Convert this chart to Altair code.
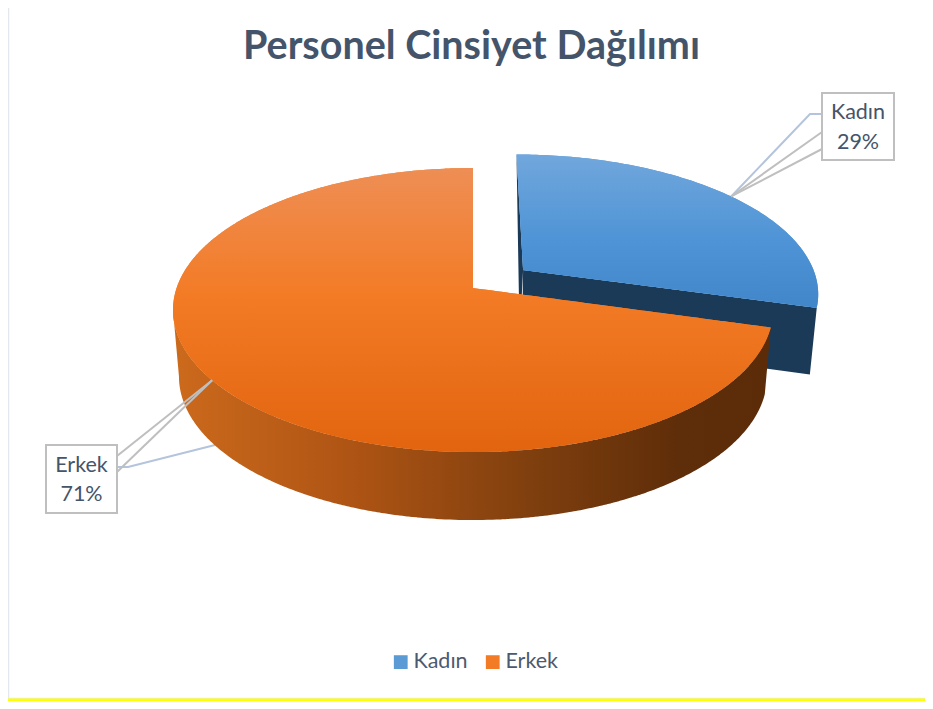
import numpy as np
import pandas as pd
import altair as alt

# --- chart values ---
categories = ["Kadın", "Erkek"]
shares = [29.4, 70.6]
title_text = "Personel Cinsiyet Dağılımı"

# --- drawing constants (picture geometry, colours) ---
W, H = 917, 693
CX, CY, A, B, K = 473.0, 288.0, 296.4, 138.6, 0.155
EXPLODE_U, EXPLODE_V = 0.1725, 0.1327
DEPTH_SX, DEPTH_SY, DEPTH_DY = 0.98, 1.01, 63.5
INK = "#44546A"
SOLID = ["#5B9BD5", "#F37B25"]
BOX_COL = "#BFBFBF"
LEAD_COL = "#B4C4DC"
XS = alt.Scale(domain=[8, 8 + W], nice=False, zero=False)
YS = alt.Scale(domain=[8 + H, 8], nice=False, zero=False)


def project(theta, du=0.0, dv=0.0):
    u = np.sin(theta) + du
    v = np.cos(theta) + dv
    w = 1 + K * v
    return np.column_stack([CX + A * u / w, CY - B * v / w])


def centre(du=0.0, dv=0.0):
    w = 1 + K * dv
    return np.array([[CX + A * du / w, CY - B * dv / w]])


def lower(p):
    return np.column_stack([CX + (p[:, 0] - CX) * DEPTH_SX, p[:, 1] * DEPTH_SY + DEPTH_DY])


def columns(points, shape):
    """Turn a closed outline into x / y / y2 rows for an area mark."""
    p = np.asarray(points)
    q = np.roll(p, -1, axis=0)
    xs = np.unique(np.concatenate([p[:, 0], p[:, 0] - 0.01, p[:, 0] + 0.01]))
    xs = xs[(xs >= p[:, 0].min()) & (xs <= p[:, 0].max())]
    rows = []
    for x in xs:
        lo, hi = np.minimum(p[:, 0], q[:, 0]), np.maximum(p[:, 0], q[:, 0])
        m = (lo <= x) & (x <= hi)
        dx = q[m, 0] - p[m, 0]
        safe = np.where(np.abs(dx) < 1e-9, 1.0, dx)
        t = np.where(np.abs(dx) < 1e-9, 0.0, (x - p[m, 0]) / safe)
        ys = np.concatenate([p[m, 1] + t * (q[m, 1] - p[m, 1]),
                             q[m, 1][np.abs(dx) < 1e-9]])
        rows.append({"x": float(x), "y": float(ys.min()), "y2": float(ys.max()), "slice": shape})
    return pd.DataFrame(rows)


def area(df, **mark):
    return alt.Chart(df).mark_area(interpolate="linear", **mark).encode(
        x=alt.X("x:Q", scale=XS, axis=None),
        y=alt.Y("y:Q", scale=YS, axis=None),
        y2="y2:Q",
    )


def v_grad(stops):
    return alt.Gradient(gradient="linear", x1=0, x2=0, y1=0, y2=1,
                        stops=[alt.GradientStop(offset=o, color=c) for o, c in stops])


def h_grad(stops):
    return alt.Gradient(gradient="linear", x1=0, x2=1, y1=0, y2=0,
                        stops=[alt.GradientStop(offset=o, color=c) for o, c in stops])


def seg(points, color, width):
    df = pd.DataFrame({"x": [p[0] for p in points], "y": [p[1] for p in points],
                       "i": list(range(len(points)))})
    return alt.Chart(df).mark_line(color=color, strokeWidth=width, interpolate="linear").encode(
        x=alt.X("x:Q", scale=XS, axis=None),
        y=alt.Y("y:Q", scale=YS, axis=None),
        order="i:Q",
    )


# --- slice geometry derived from the shares ---
total = sum(shares)
split = 2 * np.pi * shares[0] / total
th_k = np.linspace(0, split, 120)
th_e = np.linspace(split, 2 * np.pi, 240)
th_left = np.pi + np.arcsin(np.sqrt(1 - K * K))
th_wall = np.linspace(split, th_left, 200)

k_rim = project(th_k, EXPLODE_U, EXPLODE_V)
k_c = centre(EXPLODE_U, EXPLODE_V)
e_rim = project(th_e)
e_c = centre()
wall_rim = project(th_wall)

k_top = columns(np.vstack([k_c, k_rim]), categories[0])
e_top = columns(np.vstack([e_c, e_rim]), categories[1])
e_wall = columns(np.vstack([wall_rim, lower(wall_rim)[::-1]]), "wall")
corner = k_rim[[-1]]
k_wall = columns(np.vstack([k_c, corner, lower(corner), lower(k_c)]), "wall")
k_side = columns(np.vstack([k_rim[[0]], k_c, lower(k_c) - np.array([[2.5, 0.0]])]), "side")

# --- callouts ---
mid_k = shares[0] / total * np.pi
mid_e = split + shares[1] / total * np.pi
anchor_k = project(np.array([mid_k]), EXPLODE_U, EXPLODE_V)[0]
anchor_e = project(np.array([mid_e]))[0]
boxes = pd.DataFrame({"x": [822, 46], "x2": [894, 117], "y": [93, 445], "y2": [160, 513]})
pct = [f"{round(s / total * 100)}%" for s in shares]
labels = pd.DataFrame({
    "x": [858, 858, 81.5, 81.5],
    "y": [113, 143, 466, 495],
    "t": [categories[0], pct[0], categories[1], pct[1]],
})

back = [
    seg([(8, 8), (8, 699)], "#E3E8EE", 2.5),
    seg([(8, 698.5), (8 + W, 698.5)], "#E7EAEE", 1.5),
    seg([(8, 700), (8 + W, 700)], "#FFFF00", 3),
    seg([(215, 445), (128, 467), (117, 467)], LEAD_COL, 2),
]
pie = [
    area(k_side, color="#1B3A57"),
    area(k_wall, color="#1B3A57"),
    alt.Chart(pd.concat([k_top, e_top])).mark_area(interpolate="linear").encode(
        x=alt.X("x:Q", scale=XS, axis=None),
        y=alt.Y("y:Q", scale=YS, axis=None),
        y2="y2:Q",
        color=alt.Color("slice:N",
                        scale=alt.Scale(domain=categories, range=SOLID),
                        legend=alt.Legend(title=None, orient="none", direction="horizontal",
                                          columns=2, legendX=382, legendY=643,
                                          symbolType="square", symbolSize=190,
                                          symbolStrokeWidth=0, columnPadding=14,
                                          labelFont="Lato", labelFontSize=21.5,
                                          labelColor="#4B5A70", labelOffset=2)),
    ),
    area(k_top, color=v_grad([(0, "#71A7DC"), (0.55, "#4F94D6"), (1, "#4186C8")])),
    area(e_wall, color=h_grad([(0, "#CC6A1C"), (0.3, "#AE5414"), (0.6, "#7F3F0E"),
                               (0.85, "#5E2D09"), (1, "#5C2C08")])),
    area(e_top, color=v_grad([(0, "#EE8E55"), (0.45, "#F37B25"), (1, "#E2640F")])),
]
front = [
    seg([tuple(anchor_k), (810, 114), (822, 114)], LEAD_COL, 2),
    seg([tuple(anchor_k), (822, 132)], BOX_COL, 2),
    seg([tuple(anchor_k), (822, 149)], BOX_COL, 2),
    seg([tuple(anchor_e), (117, 456)], BOX_COL, 2),
    seg([tuple(anchor_e), (117, 472)], BOX_COL, 2),
    alt.Chart(boxes).mark_rect(fill="white", stroke=BOX_COL, strokeWidth=2).encode(
        x=alt.X("x:Q", scale=XS, axis=None),
        x2="x2:Q",
        y=alt.Y("y:Q", scale=YS, axis=None),
        y2="y2:Q",
    ),
    alt.Chart(labels).mark_text(font="Lato", fontSize=21.5, color=INK, align="center",
                                baseline="middle").encode(
        x=alt.X("x:Q", scale=XS, axis=None),
        y=alt.Y("y:Q", scale=YS, axis=None),
        text="t:N",
    ),
]

chart = alt.layer(*back, *pie, *front).properties(
    width=W,
    height=H,
    padding=0,
    autosize=alt.AutoSizeParams(type="none"),
    background="white",
    title=alt.TitleParams(title_text, anchor="middle", font="Lato", fontSize=39.5,
                          fontWeight="bold", color=INK, dy=68, dx=5),
).configure_view(stroke=None)

chart.save("out.html", embed_options={"renderer": "svg", "actions": False})
